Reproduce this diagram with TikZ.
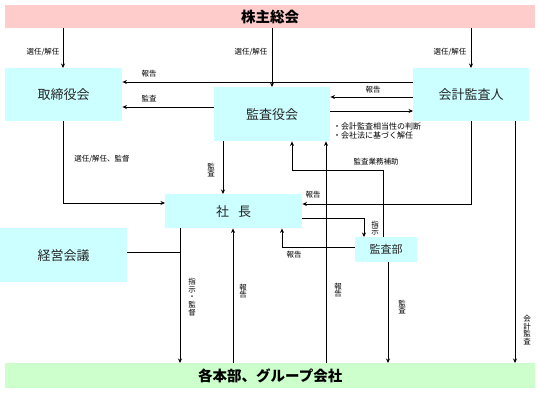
\documentclass[tikz,border=0pt]{standalone}
\usepackage{fontspec}
\setmainfont{Noto Sans CJK JP}
\usetikzlibrary{arrows.meta}
\definecolor{pinkbg}{HTML}{FFCCCC}
\definecolor{cyanbg}{HTML}{CCFFFF}
\definecolor{greenbg}{HTML}{CCFFCC}
\tikzset{
  box/.style={fill=cyanbg, draw=none, anchor=north west, inner sep=0pt, font=\fontsize{13}{15}\selectfont, text=black!85},
  bar/.style={draw=none, anchor=north west, inner sep=0pt, font=\bfseries\fontsize{14.5}{16}\selectfont},
  arr/.style={-{Stealth[length=4.5pt,width=4pt]}, line width=0.9pt},
  ln/.style={line width=0.9pt},
  lab/.style={font=\fontsize{7.5}{8}\selectfont, inner sep=0pt},
  vlab/.style={font=\fontsize{7.5}{7.6}\selectfont, inner sep=0pt, align=center},
}
\begin{document}
\begin{tikzpicture}[x=1pt,y=-1pt]
\useasboundingbox (0,0) rectangle (539,392);
% boxes
\node[bar, fill=pinkbg, minimum width=530pt, minimum height=23pt] (soukai) at (5,5) {株主総会};
\node[bar, fill=greenbg, minimum width=530pt, minimum height=25pt] (honbu) at (5,363) {各本部、グループ会社};
\node[box, minimum width=117pt, minimum height=53pt] (tori) at (5,68) {取締役会};
\node[box, minimum width=116pt, minimum height=54pt] (kansayaku) at (214,87) {\raisebox{-6pt}{監査役会}};
\node[box, minimum width=116pt, minimum height=53pt] (kaikei) at (413,68) {会計監査人};
\node[box, minimum width=137pt, minimum height=34pt] (shacho) at (165,194) {社\hspace{9pt}長};
\node[box, minimum width=127pt, minimum height=54pt] (keiei) at (0,228) {経営会議};
\node[box, minimum width=62pt, minimum height=25pt, font=\fontsize{11}{13}\selectfont] (kansabu) at (355,237) {監査部};

% from shareholders
\draw[arr] (soukai.south -| 63,0) -- (tori.north -| 63,0);
\draw[arr] (soukai.south -| 272,0) -- (kansayaku.north -| 272,0);
\draw[arr] (soukai.south -| 471,0) -- (kaikei.north -| 471,0);
\node[lab] (l1) at (43,52) {選任/解任};
\node[lab] (l2) at (251,52) {選任/解任};
\node[lab] (l3) at (450,52) {選任/解任};

% horizontal links
\draw[arr] (kaikei.west |- 0,82) -- (tori.east |- 0,82);
\node[lab] (l4) at (149,74) {報告};
\draw[arr] (kansayaku.west |- 0,107) -- (tori.east |- 0,107);
\node[lab] (l5) at (149,99) {監査};
\draw[arr] (kaikei.west |- 0,97) -- (kansayaku.east |- 0,97);
\node[lab] (l6) at (373,90) {報告};
\draw[arr] (kansayaku.east |- 0,111) -- (kaikei.west |- 0,111);
\node[lab, align=left, anchor=north west, font=\fontsize{8}{9}\selectfont] (l7) at (333,123) {・会計監査相当性の判断\\・会社法に基づく解任};

% to president
\coordinate (c1) at (63,203);
\draw[arr] (tori.south -| c1) -- (c1) -- (shacho.west |- c1);
\node[lab] (l8) at (102,159) {選任/解任、監督};
\draw[arr] (kansayaku.south -| 223,0) -- (shacho.north -| 223,0);
\node[vlab] (l9) at (211,170) {監\\査};
\coordinate (c2) at (471,204);
\draw[arr] (kaikei.south -| c2) -- (c2) -- (shacho.east |- c2);
\node[lab] (l10) at (313,195) {報告};

% audit dept
\coordinate (c3) at (383,170);
\coordinate (c4) at (292,170);
\draw[arr] (kansabu.north -| c3) -- (c3) -- (c4) -- (kansayaku.south -| c4);
\node[lab] (l11) at (376,162) {監査業務補助};
\coordinate (c5) at (364,218);
\draw[arr] (shacho.east |- c5) -- (c5) -- (kansabu.north -| c5);
\node[vlab] (l12) at (375,228) {指\\示};
\coordinate (c6) at (282,247);
\draw[arr] (kansabu.west |- c6) -- (c6) -- (shacho.south -| c6);
\node[lab] (l13) at (294,255) {報告};

% to bottom bar
\draw[arr] (shacho.south -| 180,0) -- (honbu.north -| 180,0);
\node[vlab] (l14) at (192,297) {指\\示\\・\\監\\督};
\draw[ln] (keiei.east |- 0,252) -- (180,252);
\draw[arr] (honbu.north -| 233,0) -- (shacho.south -| 233,0);
\node[vlab] (l15) at (243,291) {報\\告};
\draw[arr] (honbu.north -| 326,0) -- (kansayaku.south -| 326,0);
\node[vlab] (l16) at (338,290) {報\\告};
\draw[arr] (kansabu.south -| 388,0) -- (honbu.north -| 388,0);
\node[vlab] (l17) at (402,307) {監\\査};
\draw[arr] (kaikei.south -| 515,0) -- (honbu.north -| 515,0);
\node[vlab] (l18) at (527,330) {会\\計\\監\\査};
\end{tikzpicture}
\end{document}
